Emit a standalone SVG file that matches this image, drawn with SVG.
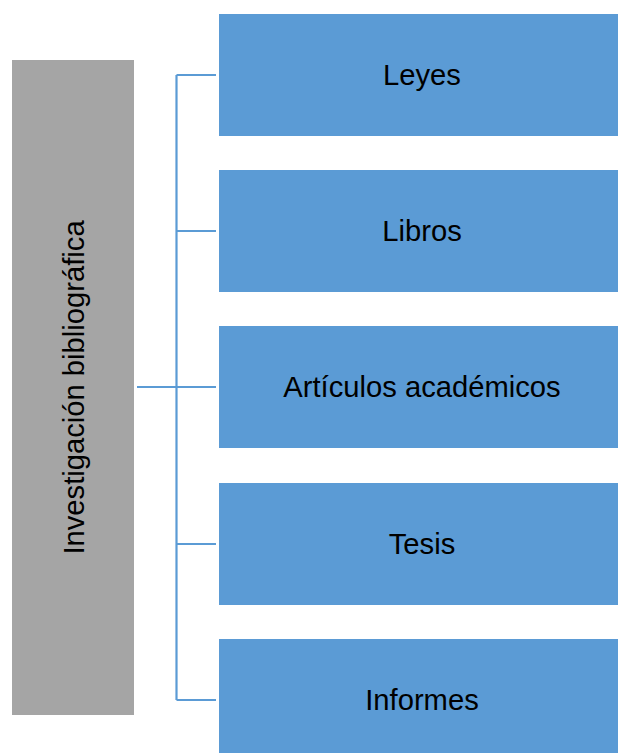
<svg xmlns="http://www.w3.org/2000/svg" width="618" height="753" viewBox="0 0 618 753">
<style>
.box{fill:#5B9BD5;}
.root{fill:#A5A5A5;}
.lbl{font-family:"Liberation Sans",Arial,sans-serif;font-size:29.2px;fill:#000;text-anchor:middle;}
.conn{stroke:#5B9BD5;stroke-width:2.2;fill:none;}
</style>
<rect width="618" height="753" fill="#fff"/>
<g id="connectors">
<path class="conn" d="M176.5,75 V700 M176.5,75 H216 M176.5,231 H216 M137,387 H216 M176.5,544 H216 M176.5,700 H216"/>
</g>
<g id="root">
<rect class="root" x="12" y="60" width="122" height="655"/>
<text class="lbl" transform="translate(83.5,387.5) rotate(-90)">Investigación bibliográfica</text>
</g>
<g id="leyes">
<rect class="box" x="219" y="14" width="399" height="122"/>
<text class="lbl" x="422" y="85">Leyes</text>
</g>
<g id="libros">
<rect class="box" x="219" y="170" width="399" height="122"/>
<text class="lbl" x="422" y="241">Libros</text>
</g>
<g id="articulos">
<rect class="box" x="219" y="326" width="399" height="122"/>
<text class="lbl" x="422" y="397">Artículos académicos</text>
</g>
<g id="tesis">
<rect class="box" x="219" y="483" width="399" height="122"/>
<text class="lbl" x="422" y="554">Tesis</text>
</g>
<g id="informes">
<rect class="box" x="219" y="639" width="399" height="122"/>
<text class="lbl" x="422" y="710">Informes</text>
</g>
</svg>
